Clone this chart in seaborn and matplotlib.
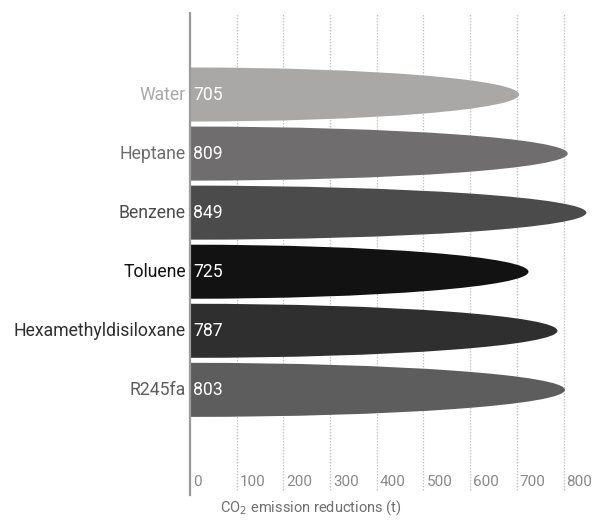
import matplotlib
matplotlib.use("Agg")
import matplotlib.pyplot as plt
import matplotlib.transforms as mtransforms
from matplotlib.patches import Ellipse
import pandas as pd
import seaborn as sns

# Working fluids and their yearly CO2 emission reductions (t)
fluids = ["Water", "Heptane", "Benzene", "Toluene", "Hexamethyldisiloxane", "R245fa"]
reductions = [705, 809, 849, 725, 787, 803]
shades = ["#aaa8a7", "#6f6d6d", "#4b4b4b", "#121212", "#2f2f2f", "#5d5d5d"]
xticks = [0, 100, 200, 300, 400, 500, 600, 700, 800]

sns.set_style("white")
plt.rcParams["font.family"] = ["Roboto", "DejaVu Sans"]

df = pd.DataFrame({"fluid": fluids, "reduction": reductions})

fig = plt.figure(figsize=(5.94, 5.23), dpi=100)
ax = fig.add_axes([190 / 594, 28 / 523, 402 / 594, 482 / 523])

sns.barplot(data=df, y="fluid", x="reduction", hue="fluid", palette=shades,
            width=0.915, legend=False, saturation=1, ax=ax)

ax.set_xlim(0, 861)
ax.set_ylim(6.78, -1.38)

# Replace each rectangle with a half-ellipse whose tip sits at the bar's value
for bar in list(ax.patches):
    x0, y0 = bar.get_x(), bar.get_y()
    w, h = bar.get_width(), bar.get_height()
    ell = Ellipse((x0, y0 + h / 2), 2 * w, h, facecolor=bar.get_facecolor(),
                  edgecolor="none", zorder=3)
    bar.set_visible(False)
    ax.add_patch(ell)

# Dotted vertical gridlines
for t in xticks[1:]:
    ax.axvline(t, ymin=0.01, ymax=1, color="#c4c4c4", lw=0.9,
               ls=(0, (1.2, 1.2)), zorder=1)

# Value labels inside bars and category labels on the left
name_tr = mtransforms.offset_copy(ax.transData, fig=fig, x=-4, y=0, units="dots")
val_tr = mtransforms.offset_copy(ax.transData, fig=fig, x=3, y=0, units="dots")
for i, (name, val, col) in enumerate(zip(fluids, reductions, shades)):
    ax.text(0, i, f"{val}", color="white", fontsize=12.7, va="center",
            ha="left", zorder=4, transform=val_tr)
    ax.text(0, i, name, color=col, fontsize=12.7, va="center", ha="right",
            transform=name_tr, clip_on=False)

# Tick labels drawn just to the right of each gridline
tick_tr = mtransforms.offset_copy(ax.get_xaxis_transform(), fig=fig, x=3,
                                  y=0, units="dots")
for t in xticks:
    ax.text(t, 0.027, f"{t}", color="#8a8a8a", fontsize=11, ha="left",
            va="center", transform=tick_tr)

ax.text(0.30, -0.026, "CO$_2$ emission reductions (t)", color="#6e6e6e",
        fontsize=10.5, ha="center", va="center", transform=ax.transAxes)

ax.set_xticks([])
ax.set_yticks([])
ax.set_xlabel("")
ax.set_ylabel("")
for s in ["top", "right", "bottom"]:
    ax.spines[s].set_visible(False)
ax.spines["left"].set_color("#9a9a9a")
ax.spines["left"].set_linewidth(1.6)
ax.spines["left"].set_zorder(5)

fig.savefig("out.png", dpi=100)
